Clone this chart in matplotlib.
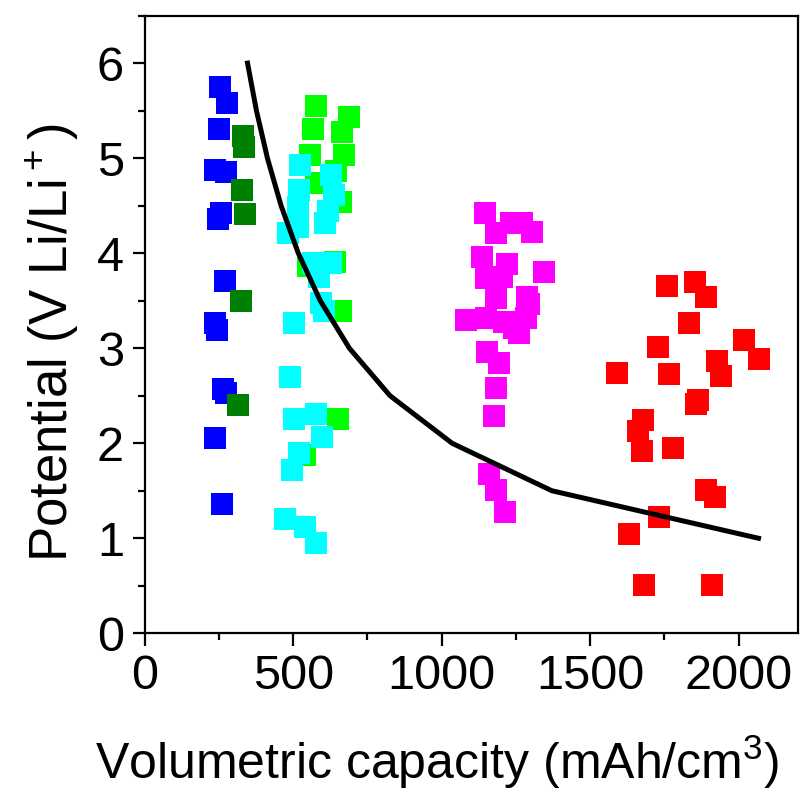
import matplotlib
matplotlib.use("Agg")
import matplotlib.pyplot as plt
from matplotlib.ticker import MultipleLocator

plt.rcParams["font.family"] = ["Liberation Sans", "DejaVu Sans"]
plt.rcParams["mathtext.fontset"] = "custom"
plt.rcParams["mathtext.rm"] = "Liberation Sans"

# blue
blue_x = [252, 277, 250, 235, 275, 255, 246, 271, 238, 243, 263, 275, 235, 261]
blue_y = [5.75, 5.58, 5.31, 4.88, 4.85, 4.42, 4.36, 3.71, 3.27, 3.19, 2.57, 2.53, 2.05, 1.36]

# dark green
dgreen_x = [330, 333, 327, 336, 325, 314]
dgreen_y = [5.23, 5.12, 4.67, 4.41, 3.50, 2.40]

# lime green
green_x = [577, 566, 687, 664, 672, 557, 644, 577, 661, 548, 639, 661, 650, 538]
green_y = [5.55, 5.31, 5.43, 5.27, 5.03, 5.03, 4.86, 4.74, 4.54, 3.86, 3.91, 3.39, 2.25, 1.88]

# cyan
cyan_x = [524, 627, 519, 636, 515, 616, 515, 608, 482, 566, 627, 588, 592, 605,
          501, 490, 501, 575, 596, 521, 495, 473, 540, 577]
cyan_y = [4.93, 4.82, 4.67, 4.61, 4.49, 4.44, 4.28, 4.32, 4.21, 3.90, 3.90, 3.75, 3.48, 3.39,
          3.26, 2.70, 2.25, 2.31, 2.07, 1.90, 1.72, 1.20, 1.12, 0.95]

# magenta
mag_x = [1146, 1233, 1272, 1305, 1182, 1137, 1221, 1345, 1149, 1204, 1182, 1288, 1294,
         1083, 1149, 1210, 1283, 1244, 1260, 1154, 1193, 1182, 1176, 1160, 1182, 1213]
mag_y = [4.42, 4.32, 4.32, 4.22, 4.21, 3.96, 3.89, 3.80, 3.74, 3.75, 3.53, 3.54, 3.46,
         3.30, 3.32, 3.28, 3.32, 3.21, 3.16, 2.96, 2.84, 2.58, 2.29, 1.68, 1.51, 1.28]

# red
red_x = [1759, 1852, 1891, 1834, 1728, 2017, 2067, 1928, 1592, 1767, 1939, 1863, 1858,
         1678, 1661, 1673, 1779, 1891, 1920, 1731, 1631, 1680, 1912]
red_y = [3.65, 3.70, 3.54, 3.27, 3.01, 3.09, 2.89, 2.87, 2.74, 2.73, 2.71, 2.45, 2.41,
         2.24, 2.13, 1.92, 1.95, 1.51, 1.43, 1.22, 1.04, 0.51, 0.51]

# black curve
curve_x = [346, 376, 413, 459, 517, 591, 689, 826, 1035, 1371, 2067]
curve_y = [6.0, 5.5, 5.0, 4.5, 4.0, 3.5, 3.0, 2.5, 2.0, 1.5, 1.0]

fig = plt.figure(figsize=(8, 7.96), dpi=100)
ax = fig.add_axes([0.181, 0.2044, 0.8165, 0.776])

ms = 270
groups = [
    (blue_x, blue_y, "#0000ff"),
    (dgreen_x, dgreen_y, "#008000"),
    (green_x, green_y, "#00ff00"),
    (cyan_x, cyan_y, "#00ffff"),
    (mag_x, mag_y, "#ff00ff"),
    (red_x, red_y, "#ff0000"),
]
for gx, gy, c in groups:
    ax.scatter(gx, gy, s=ms, marker="s", color=c, linewidths=0, zorder=2)

ax.plot(curve_x, curve_y, color="black", lw=3.6, zorder=3)

ax.set_xlim(0, 2200)
ax.set_ylim(0, 6.5)
ax.xaxis.set_major_locator(MultipleLocator(500))
ax.xaxis.set_minor_locator(MultipleLocator(250))
ax.yaxis.set_major_locator(MultipleLocator(1))
ax.yaxis.set_minor_locator(MultipleLocator(0.5))

for s in ax.spines.values():
    s.set_linewidth(1.6)
ax.tick_params(which="major", direction="out", length=9, width=1.6, labelsize=35, pad=6)
ax.tick_params(which="minor", direction="out", length=5, width=1.6)
ax.tick_params(top=False, right=False, which="both")

ax.set_xlabel("Volumetric capacity (mAh/cm$^3$)", fontsize=36, labelpad=24)
ax.set_ylabel("Potential (V Li/Li$^+$)", fontsize=38, labelpad=12)
ax.xaxis.label.set_x(0.448)
ax.yaxis.label.set_y(0.47)

fig.savefig("out.png", dpi=100)
